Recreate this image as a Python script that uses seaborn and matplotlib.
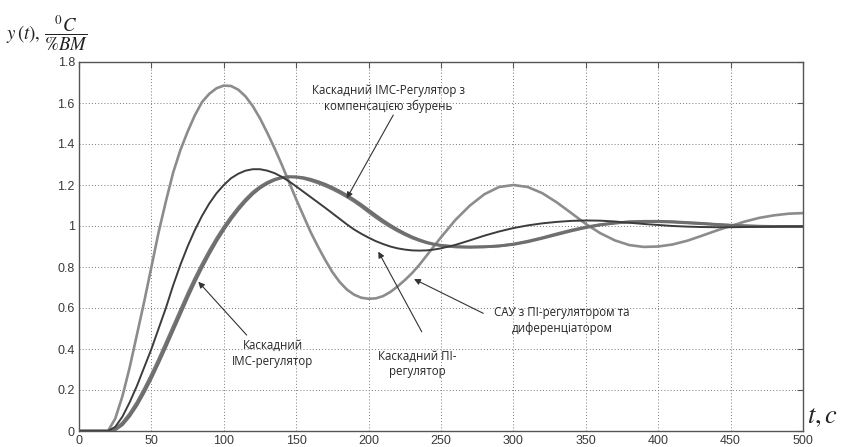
import numpy as np
import pandas as pd
import matplotlib
matplotlib.use("Agg")
import matplotlib.pyplot as plt
import seaborn as sns

# ---- data: step responses, time in seconds ----
t = [0, 5, 10, 15, 20, 25, 30, 35, 40, 45, 50, 55, 60, 65, 70, 75, 80, 85, 90, 95,
     100, 105, 110, 115, 120, 125, 130, 135, 140, 145, 150, 155, 160, 165, 170, 175,
     180, 185, 190, 195, 200, 205, 210, 215, 220, 225, 230, 235, 240, 245, 250,
     260, 270, 280, 290, 300, 310, 320, 330, 340, 350, 360, 370, 380, 390, 400,
     410, 420, 430, 440, 450, 460, 470, 480, 490, 500]

# control system with PI controller and differentiator
y_pid = [0, 0, 0, 0, 0, 0.06, 0.17, 0.31, 0.47, 0.63, 0.80, 0.97, 1.12, 1.26, 1.37, 1.46,
         1.54, 1.605, 1.645, 1.672, 1.685, 1.683, 1.665, 1.632, 1.585, 1.525, 1.455, 1.38,
         1.30, 1.215, 1.13, 1.05, 0.97, 0.90, 0.835, 0.775, 0.727, 0.69, 0.665, 0.65,
         0.645, 0.647, 0.658, 0.678, 0.705, 0.736, 0.77, 0.81, 0.855, 0.90, 0.945,
         1.03, 1.10, 1.155, 1.19, 1.20, 1.19, 1.16, 1.115, 1.063, 1.01, 0.965, 0.93,
         0.907, 0.898, 0.90, 0.91, 0.928, 0.952, 0.977, 1.0, 1.022, 1.04, 1.052, 1.06, 1.063]

# cascade PI controller
y_pi = [0, 0, 0, 0, 0, 0.02, 0.07, 0.14, 0.22, 0.31, 0.40, 0.50, 0.60, 0.71, 0.81, 0.90,
        0.98, 1.05, 1.11, 1.16, 1.20, 1.233, 1.255, 1.27, 1.277, 1.277, 1.27, 1.258,
        1.24, 1.218, 1.193, 1.167, 1.141, 1.115, 1.089, 1.062, 1.035, 1.008, 0.983, 0.962,
        0.943, 0.926, 0.912, 0.90, 0.891, 0.885, 0.881, 0.88, 0.881, 0.885, 0.891,
        0.908, 0.93, 0.953, 0.973, 0.99, 1.003, 1.013, 1.02, 1.025, 1.027, 1.026, 1.022,
        1.016, 1.01, 1.005, 1.0, 0.997, 0.995, 0.994, 0.994, 0.995, 0.996, 0.997, 0.998, 0.998]

# cascade IMC controller
y_imc = [0, 0, 0, 0, 0, 0.01, 0.04, 0.085, 0.14, 0.205, 0.275, 0.35, 0.43, 0.51, 0.59,
         0.67, 0.745, 0.815, 0.88, 0.94, 0.995, 1.045, 1.09, 1.13, 1.165, 1.192, 1.213,
         1.228, 1.237, 1.24, 1.238, 1.232, 1.222, 1.21, 1.196, 1.18, 1.162, 1.142, 1.12,
         1.095, 1.068, 1.042, 1.018, 0.996, 0.976, 0.958, 0.942, 0.929, 0.918, 0.91, 0.904,
         0.898, 0.897, 0.899, 0.903, 0.912, 0.926, 0.943, 0.962, 0.98, 0.995, 1.007, 1.015,
         1.02, 1.022, 1.021, 1.019, 1.015, 1.011, 1.007, 1.003, 1.0, 0.998, 0.997, 0.997, 0.997]

# cascade IMC controller with disturbance compensation
y_imc_comp = [0, 0, 0, 0, 0, 0.005, 0.03, 0.072, 0.125, 0.188, 0.257, 0.332, 0.41, 0.49,
              0.57, 0.65, 0.727, 0.798, 0.864, 0.926, 0.982, 1.033, 1.079, 1.12, 1.156,
              1.185, 1.207, 1.224, 1.235, 1.24, 1.24, 1.236, 1.228, 1.217, 1.204, 1.188,
              1.17, 1.15, 1.128, 1.104, 1.078, 1.052, 1.027, 1.004, 0.983, 0.964, 0.947,
              0.933, 0.921, 0.912, 0.906, 0.899, 0.897, 0.898, 0.902, 0.91, 0.923, 0.94,
              0.958, 0.976, 0.992, 1.005, 1.014, 1.02, 1.023, 1.023, 1.021, 1.017, 1.013,
              1.008, 1.004, 1.001, 0.999, 0.998, 0.997, 0.997]

x_ticks = [0, 50, 100, 150, 200, 250, 300, 350, 400, 450, 500]
y_ticks = [0, 0.2, 0.4, 0.6, 0.8, 1.0, 1.2, 1.4, 1.6, 1.8]
y_tick_labels = ["0", "0.2", "0.4", "0.6", "0.8", "1", "1.2", "1.4", "1.6", "1.8"]

# annotations: text, text position (t, y), arrow start, arrow tip
notes = [
    ("Каскадний IMC-Регулятор з\nкомпенсацією збурень", (213.4, 1.623), (217.0, 1.541), (184.9, 1.135)),
    ("Каскадний\nIMC-регулятор", (133.6, 0.38), (115.8, 0.468), (82.4, 0.728)),
    ("Каскадний ПІ-\nрегулятор", (233.4, 0.327), (236.7, 0.484), (206.7, 0.875)),
    ("САУ з ПІ-регулятором та\nдиференціатором", (333.6, 0.537), (279.2, 0.574), (231.4, 0.741)),
]

# ---- styling ----
sns.set_style("white")
plt.rcParams["mathtext.fontset"] = "stix"
plt.rcParams["font.family"] = ["Liberation Sans", "DejaVu Sans"]

fig = plt.figure(figsize=(8.46, 4.47), dpi=100)
ax = fig.add_axes([79 / 846, 1 - 431 / 447, (803 - 79) / 846, (431 - 62) / 447])

df = pd.DataFrame({"t": t, "pid": y_pid, "pi": y_pi, "imc": y_imc, "imc_comp": y_imc_comp})

sns.lineplot(data=df, x="t", y="pid", ax=ax, color="#8c8c8c", lw=1.9)
sns.lineplot(data=df, x="t", y="imc", ax=ax, color="#767676", lw=2.0)
sns.lineplot(data=df, x="t", y="imc_comp", ax=ax, color="#6e6e6e", lw=2.0)
sns.lineplot(data=df, x="t", y="pi", ax=ax, color="#3c3c3c", lw=1.4)

ax.set_xlim(0, 500)
ax.set_ylim(0, 1.8)
ax.set_xticks(x_ticks)
ax.set_xticklabels([str(v) for v in x_ticks])
ax.set_yticks(y_ticks)
ax.set_yticklabels(y_tick_labels)
ax.set_xlabel("")
ax.set_ylabel("")

ax.grid(True, color="#7a7a7a", linestyle=(0, (1, 2.2)), linewidth=0.7)
ax.set_axisbelow(True)
for s in ax.spines.values():
    s.set_color("#555555")
    s.set_linewidth(1.0)
ax.tick_params(direction="in", length=4, width=0.8, color="#555555",
               top=True, right=True, labelsize=9, labelcolor="#3a3a3a", pad=3)

for text, txy, start, tip in notes:
    ax.text(txy[0], txy[1], text, ha="center", va="center", fontsize=8.3,
            family=["Open Sans", "DejaVu Sans"], color="#262626", linespacing=1.3)
    ax.annotate("", xy=tip, xytext=start,
                arrowprops=dict(arrowstyle="-|>", color="#333333", lw=0.8,
                                mutation_scale=9, shrinkA=0, shrinkB=0))

fig.text(6 / 846, 1 - 33 / 447, r"$y\,(t),\,\dfrac{{}^{0}C}{\%BM}$", fontsize=13.5,
         ha="left", va="center", color="#222222")
fig.text(807 / 846, 1 - 417 / 447, r"$t,c$", fontsize=19, ha="left", va="center",
         color="#222222")

fig.savefig("out.png", dpi=100)
